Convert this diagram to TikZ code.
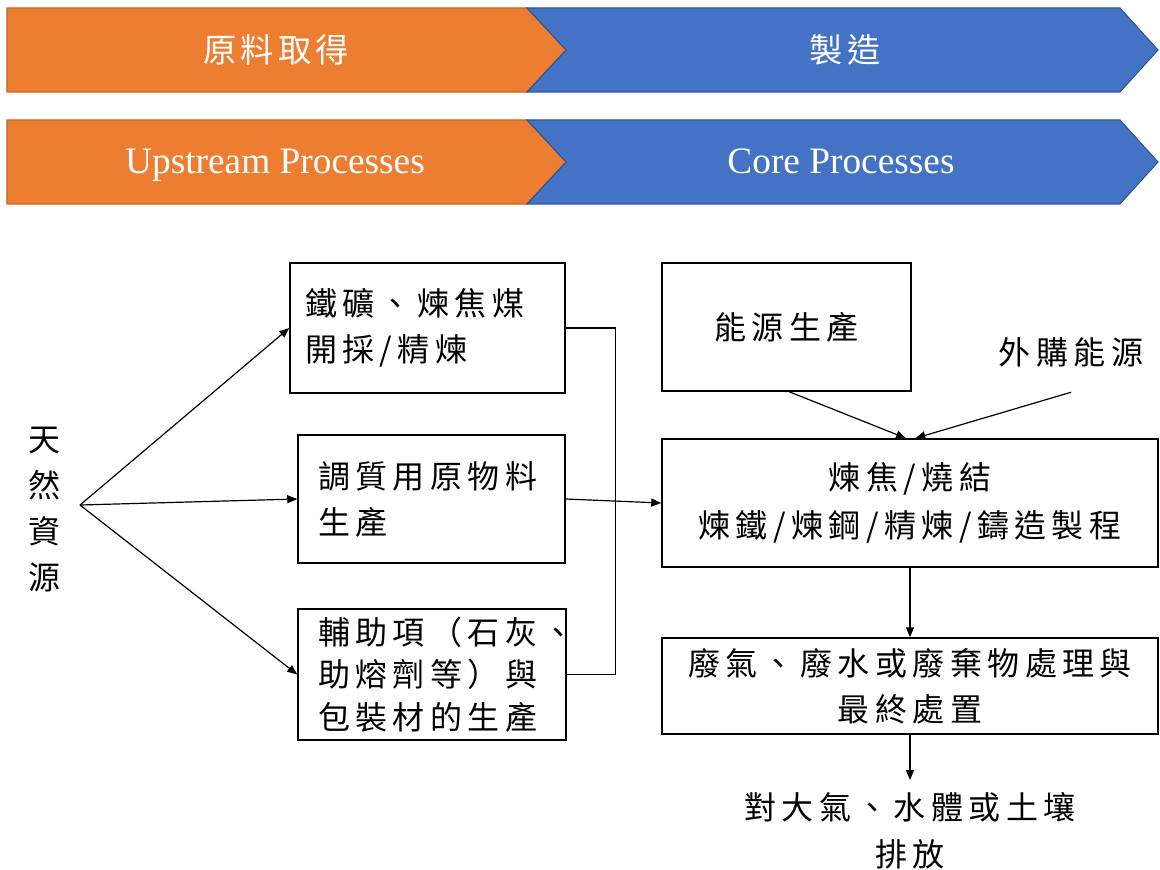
\documentclass[tikz,border=0pt]{standalone}
\usepackage{fontspec}
\setmainfont{Liberation Serif}
\newfontfamily\cjk[LetterSpace=17]{Noto Sans CJK TC}
\newfontfamily\cjkhead[LetterSpace=12]{Noto Sans CJK TC}
\usetikzlibrary{arrows.meta,calc}
\definecolor{bandorange}{HTML}{ED7D31}
\definecolor{bandorangeline}{HTML}{C0661F}
\definecolor{bandblue}{HTML}{4472C4}
\definecolor{bandblueline}{HTML}{2F5597}
\begin{document}
\begin{tikzpicture}[x=0.75pt,y=-0.75pt,
  cj/.style={font=\cjk\fontsize{24}{34.5}\selectfont},
  box/.style={draw=black,line width=1.1pt,cj,inner ysep=0pt},
  plain/.style={cj,inner sep=2pt},
  bandtext/.style={text=white,font=\cjkhead\fontsize{25}{30}\selectfont},
  bandlatin/.style={text=white,font=\fontsize{28}{34}\selectfont,anchor=base},
  arr/.style={draw=black,line width=0.9pt,-{Triangle[length=7.5pt,width=6pt]}},
  conn/.style={draw=black,line width=0.9pt},
  orangeband/.style={fill=bandorange,draw=bandorangeline,line width=0.8pt},
  blueband/.style={fill=bandblue,draw=bandblueline,line width=0.8pt}]
\useasboundingbox (0,0) rectangle (1160,870);
% banners
\path[orangeband] (7,8) -- (527,8) -- (566,50) -- (527,92) -- (7,92) -- cycle;
\path[blueband] (527,8) -- (1120,8) -- (1158,50) -- (1120,92) -- (527,92) -- (566,50) -- cycle;
\path[orangeband] (7,120) -- (527,120) -- (566,162) -- (527,204) -- (7,204) -- cycle;
\path[blueband] (527,120) -- (1120,120) -- (1158,162) -- (1120,204) -- (527,204) -- (566,162) -- cycle;
\node[bandtext] (h1) at (276,50) {原料取得};
\node[bandtext] (h2) at (845,50) {製造};
\node[bandlatin] (h3) at (275,174) {Upstream Processes};
\node[bandlatin] (h4) at (841,174) {Core Processes};
% left part
\node[plain,align=center] (src) at (44,510) {天\\然\\資\\源};
\coordinate (fork) at (80,505);
\node[box,text width=183.75pt,inner xsep=11.25pt,minimum height=97.5pt,align=left] (A) at (427.5,328) {鐵礦、煉焦煤\\開採/精煉};
\node[box,text width=170.25pt,inner xsep=15pt,minimum height=96pt,align=left] (B) at (431.5,499) {調質用原物料\\生產};
\node[box,text width=171pt,inner xsep=15pt,minimum height=98.25pt,align=left,font=\cjk\fontsize{24}{32}\selectfont] (C) at (432,674.5) {輔助項（石灰、\\助熔劑等）與\\包裝材的生產};
\draw[arr] (fork) -- (A.west);
\draw[arr] (fork) -- (B.west);
\draw[arr] (fork) -- (C.west);
% right part
\node[box,minimum width=186.75pt,minimum height=96pt,align=center] (E) at (786.5,327) {能源生產};
\node[plain,minimum height=60pt] (ext) at (1071,352) {外購能源};
\node[box,minimum width=372pt,minimum height=96pt,align=center,font=\cjk\fontsize{24}{36}\selectfont] (core) at (910,503) {煉焦/燒結\\煉鐵/煉鋼/精煉/鑄造製程};
\node[box,minimum width=372pt,minimum height=72pt,align=center] (waste) at (910,686) {廢氣、廢水或廢棄物處理與\\最終處置};
\node[plain,anchor=north,align=center,inner ysep=9pt,font=\cjk\fontsize{24}{35.5}\selectfont] (emit) at (910,780) {對大氣、水體或土壤\\排放};
\draw[conn] (A.east) -- ++(50,0) |- (C.east);
\draw[arr] (B.east) -- (core.west);
\draw[arr] ([xshift=2pt]E.south) -- ([xshift=-3pt]core.north);
\draw[arr] (ext.south) -- ([xshift=4pt]core.north);
\draw[arr] (core.south) -- (waste.north);
\draw[arr] (waste.south) -- (emit.north);
\end{tikzpicture}
\end{document}
